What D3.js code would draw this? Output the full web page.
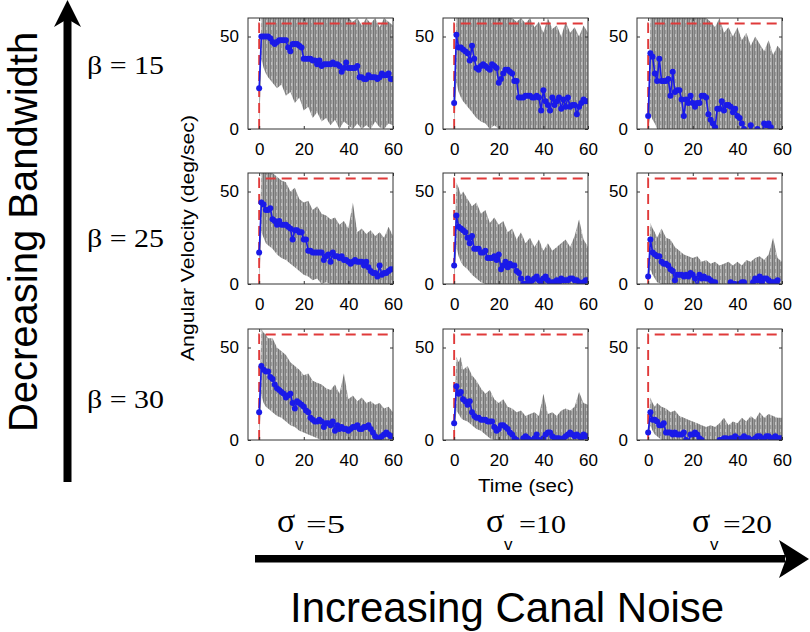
<!DOCTYPE html>
<html>
<head>
<meta charset="utf-8">
<script src="https://cdn.jsdelivr.net/npm/d3@7/dist/d3.min.js"></script>
<style>
  html, body { margin: 0; padding: 0; background: #fff; }
  svg { display: block; }
</style>
</head>
<body>
<svg id="chart" width="810" height="632"></svg>
<script>
// ---------------- DATA ----------------
const betaLabels = ["β = 15", "β = 25", "β = 30"];
const sigmaValues = ["5", "10", "20"];
const xTicks = [0, 20, 40, 60];
const yTicks = [0, 50];
const refLevel = 57;
const timeSec = d3.range(0, 61);            // blue estimate sampled each second
const grayT = [0,1,2,3,4,6,8,10,12,14,16,18,20,22,24,26,28,30,32,34,36,38,40,42,44,46,48,50,52,54,56,58,60];

// blue estimates (deg/sec), t = 0..60
const blue_b15_s5  = [22,50,50,50,50,49,47,46,47,48, 48,48,48,44,42,46,46,46,45,44, 38,38,38,38,37,37,35,37,34,35, 35,35,35,36,35,35,34,31,33,36, 33,33,33,33,34,28,28,27,27,29, 28,28,28,27,28,30,29,29,30,27, 27];
const blue_b15_s10 = [14,51,44,44,43,42,41,37,45,38, 33,32,34,35,34,33,32,35,34,33, 25,27,30,32,32,31,30,26,26,17, 17,17,18,18,18,17,17,18,17,10, 21,15,13,10,17,13,15,17,11,16, 12,17,12,13,13,8,12,14,16,15, 15];
const blue_b15_s20 = [7,41,39,30,26,38,26,26,26,27, 18,31,20,21,21,16,7,16,14,18, 14,12,14,14,18,18,17,8,5,3, 1,11,11,15,10,13,13,12,9,11, 7,6,3,0,-4,-2,2,-3,-2,0, -4,-3,3,2,3,1,-3,-4,-2,-3, -3];
const blue_b25_s5  = [17,44,43,40,40,41,35,34,32,34, 32,32,32,31,30,24,29,29,28,28, 24,24,18,18,17,17,17,17,17,13, 15,16,12,17,15,15,14,15,13,13, 12,11,12,13,12,12,12,10,12,9, 7,6,6,4,10,5,6,6,7,8, 8];
const blue_b25_s10 = [10,37,31,30,29,28,25,22,26,19, 19,19,17,17,18,14,14,14,15,13, 16,8,10,12,9,11,10,10,7,6, 3,0,0,3,1,2,3,4,2,1, 3,4,2,0,1,1,2,1,3,2, 2,2,3,3,2,2,1,0,1,2, 2];
const blue_b25_s20 = [4,24,17,16,15,15,12,11,11,10, 8,7,2,5,5,5,4,5,4,6, 5,3,-2,5,3,4,3,3,2,1, 1,-1,-3,-4,-2,-3,-1,1,0,0, -1,0,1,1,-2,-3,-1,1,3,2, 4,1,3,3,2,1,1,1,2,-1, -2];
const blue_b30_s5  = [15,40,38,37,37,34,33,30,28,27, 26,25,23,24,25,20,17,21,20,19, 18,16,15,12,11,10,10,11,10,7, 9,9,8,10,5,8,6,7,6,6, 5,6,7,7,8,6,6,7,7,8, 6,4,2,1,1,2,3,4,3,2, 2];
const blue_b30_s10 = [9,29,25,26,22,21,19,21,15,13, 12,12,11,11,11,10,10,10,7,5, 6,8,8,7,6,4,3,1,0,-1, -2,1,2,1,0,-1,1,3,0,-1, 1,3,4,4,2,1,1,1,0,1, 2,3,4,3,2,3,2,1,3,2, 2];
const blue_b30_s20 = [4,15,11,11,10,8,8,9,4,4, 4,3,4,3,3,3,4,0,-2,3, 3,4,3,1,0,-1,-3,-4,-2,-3, -4,-2,0,0,1,1,0,1,1,2, 1,0,1,2,1,1,0,0,1,2, 2,1,0,2,2,1,1,2,1,1, 1];

// gray trial envelopes (upper / lower), at grayT
const grayHi_b15_s5  = [22,60,60,60,60,60,60,60,60,60,60,60,60,60,60,60,60,60,60,60,60,60,60,58,60,56,60,57,60,55,60,58,56];
const grayLo_b15_s5  = [0,38,33,30,28,25,22,24,18,20,14,17,10,12,6,9,4,6,2,5,0,4,2,0,3,0,2,0,4,1,0,3,2];
const grayHi_b15_s10 = [14,60,60,60,60,60,60,60,60,60,60,60,60,60,60,60,58,60,57,60,55,58,52,60,54,56,50,58,52,55,50,56,52];
const grayLo_b15_s10 = [0,25,20,17,15,12,9,6,4,3,0,2,0,0,0,0,0,0,0,0,0,0,0,0,0,0,0,0,0,0,0,0,0];
const grayHi_b15_s20 = [7,60,60,60,60,60,60,60,60,60,60,60,60,60,60,60,58,55,60,52,55,50,55,48,52,45,50,46,42,48,40,45,42];
const grayLo_b15_s20 = [0,8,5,3,0,0,0,0,0,0,0,0,0,0,0,0,0,0,0,0,0,0,0,0,0,0,0,0,0,0,0,0,0];
const grayHi_b25_s5  = [17,60,60,60,60,60,58,56,55,50,52,46,44,45,40,42,38,37,35,36,32,34,30,44,28,30,27,29,26,28,25,31,26];
const grayLo_b25_s5  = [0,28,25,22,21,19,16,14,13,11,9,7,5,4,2,3,0,1,0,0,0,0,0,0,0,0,0,0,0,0,0,0,0];
const grayHi_b25_s10 = [10,55,52,48,50,46,42,44,38,40,33,36,32,34,28,30,24,28,22,25,20,24,18,22,18,20,22,24,20,26,35,24,20];
const grayLo_b25_s10 = [0,20,15,12,10,8,5,3,1,0,0,0,0,0,0,0,0,0,0,0,0,0,0,0,0,0,0,0,0,0,0,0,0];
const grayHi_b25_s20 = [5,33,30,28,25,30,25,24,20,18,16,15,14,15,12,13,11,12,10,11,12,10,12,10,13,12,14,15,13,16,25,14,12];
const grayLo_b25_s20 = [0,8,5,3,1,0,0,0,0,0,0,0,0,0,0,0,0,0,0,0,0,0,0,0,0,0,0,0,0,0,0,0,0];
const grayHi_b30_s5  = [15,60,58,57,55,55,50,48,46,42,40,38,35,36,32,31,30,28,27,30,25,36,22,24,21,23,20,21,19,20,17,18,15];
const grayLo_b30_s5  = [0,24,20,18,17,15,13,12,10,8,7,5,4,3,2,1,0,0,0,0,0,0,0,0,0,0,0,0,0,0,0,0,0];
const grayHi_b30_s10 = [9,45,42,45,38,40,35,32,28,25,27,22,20,22,18,17,15,16,13,14,15,13,25,14,15,13,16,17,16,18,26,20,19];
const grayLo_b30_s10 = [0,16,14,12,11,10,8,6,5,3,1,0,0,0,0,0,0,0,0,0,0,0,0,0,0,0,0,0,0,0,0,0,0];
const grayHi_b30_s20 = [4,23,20,18,20,18,17,15,16,13,12,11,10,9,8,7,8,7,9,12,8,10,9,12,10,13,11,15,12,14,13,12,12];
const grayLo_b30_s20 = [0,8,5,3,2,0,0,0,0,0,0,0,0,0,0,0,0,0,0,0,0,0,0,0,0,0,0,0,0,0,0,0,0];

const panels = [
  {row:0, col:0, blue:blue_b15_s5,  hi:grayHi_b15_s5,  lo:grayLo_b15_s5},
  {row:0, col:1, blue:blue_b15_s10, hi:grayHi_b15_s10, lo:grayLo_b15_s10},
  {row:0, col:2, blue:blue_b15_s20, hi:grayHi_b15_s20, lo:grayLo_b15_s20},
  {row:1, col:0, blue:blue_b25_s5,  hi:grayHi_b25_s5,  lo:grayLo_b25_s5},
  {row:1, col:1, blue:blue_b25_s10, hi:grayHi_b25_s10, lo:grayLo_b25_s10},
  {row:1, col:2, blue:blue_b25_s20, hi:grayHi_b25_s20, lo:grayLo_b25_s20},
  {row:2, col:0, blue:blue_b30_s5,  hi:grayHi_b30_s5,  lo:grayLo_b30_s5},
  {row:2, col:1, blue:blue_b30_s10, hi:grayHi_b30_s10, lo:grayLo_b30_s10},
  {row:2, col:2, blue:blue_b30_s20, hi:grayHi_b30_s20, lo:grayLo_b30_s20}
];

// ---------------- LAYOUT ----------------
const colLeft = [248, 443, 637];
const rowTop = [18, 173, 329];
const pw = 145, ph = 111;
const sansFont = "'Liberation Sans', Arial, Helvetica, sans-serif";
const serifFont = "'Liberation Serif', 'Times New Roman', Times, serif";

const svg = d3.select("#chart");
const defs = svg.append("defs");
const pat = defs.append("pattern").attr("id", "grayStripes")
  .attr("patternUnits", "userSpaceOnUse").attr("width", 5).attr("height", 7);
pat.append("rect").attr("width", 5).attr("height", 7).attr("fill", "#a6a6a6");
pat.append("rect").attr("x", 0).attr("width", 1.2).attr("height", 7).attr("fill", "#737373");
pat.append("rect").attr("x", 2).attr("width", 1.3).attr("height", 7).attr("fill", "#808080");
pat.append("rect").attr("x", 3.3).attr("y", 2).attr("width", 0.8).attr("height", 3).attr("fill", "#d4d4d4");

const x = d3.scaleLinear().domain([-5, 60]).range([0, pw]);
const y = d3.scaleLinear().domain([0, 60]).range([ph, 0]);

panels.forEach((p, i) => {
  const g = svg.append("g").attr("transform", `translate(${colLeft[p.col]},${rowTop[p.row]})`);
  defs.append("clipPath").attr("id", "clip" + i)
    .append("rect").attr("width", pw).attr("height", ph);
  const body = g.append("g").attr("clip-path", `url(#clip${i})`);

  // gray trials band
  const band = grayT.map((t, k) => ({t, hi: p.hi[k], lo: p.lo[k]}));
  body.append("path").datum(band)
    .attr("d", d3.area().x(d => x(d.t)).y0(d => y(d.lo)).y1(d => y(d.hi)))
    .attr("fill", "url(#grayStripes)");

  // red dashed reference (step)
  body.append("path")
    .attr("d", d3.line()([[x(0), y(0)], [x(0), y(refLevel)], [x(60), y(refLevel)]]))
    .attr("fill", "none").attr("stroke", "#e03a3a").attr("stroke-width", 1.9)
    .attr("stroke-dasharray", "10,6");

  // blue estimate
  const pts = timeSec.map((t, k) => ({t, v: p.blue[k]}));
  body.append("path").datum(pts)
    .attr("d", d3.line().x(d => x(d.t)).y(d => y(d.v)))
    .attr("fill", "none").attr("stroke", "#1a1ae8").attr("stroke-width", 1.6);
  body.selectAll("circle").data(pts.filter(d => d.v >= 0)).join("circle")
    .attr("cx", d => x(d.t)).attr("cy", d => y(d.v)).attr("r", 3)
    .attr("fill", "#1a1ae8");

  // axes
  const ax = d3.axisBottom(x).tickValues(xTicks).tickSizeInner(-3).tickSizeOuter(0).tickPadding(14);
  const axTop = d3.axisTop(x).tickValues(xTicks).tickSizeInner(-3).tickSizeOuter(0).tickFormat("");
  const ay = d3.axisLeft(y).tickValues(yTicks).tickSizeInner(-3).tickSizeOuter(0).tickPadding(9);
  const ayR = d3.axisRight(y).tickValues(yTicks).tickSizeInner(-3).tickSizeOuter(0).tickFormat("");
  const gx = g.append("g").attr("transform", `translate(0,${ph})`).call(ax);
  g.append("g").call(axTop);
  const gy = g.append("g").call(ay);
  g.append("g").attr("transform", `translate(${pw},0)`).call(ayR);
  g.selectAll(".domain").remove();
  g.selectAll(".tick line").attr("stroke", "#333");
  [gx, gy].forEach(a => a.selectAll("text")
    .attr("font-family", sansFont).attr("font-size", 17).attr("fill", "#000"));
  g.append("rect").attr("width", pw).attr("height", ph)
    .attr("fill", "none").attr("stroke", "#333").attr("stroke-width", 1);
});

// ---------------- LABELS ----------------
svg.append("text").attr("transform", "translate(194,238) rotate(-90)")
  .attr("text-anchor", "middle").attr("font-family", sansFont).attr("font-size", 19)
  .attr("textLength", 246).attr("lengthAdjust", "spacingAndGlyphs")
  .text("Angular Velocity (deg/sec)");

svg.append("text").attr("x", 526).attr("y", 492)
  .attr("text-anchor", "middle").attr("font-family", sansFont).attr("font-size", 18)
  .attr("textLength", 96).attr("lengthAdjust", "spacingAndGlyphs")
  .text("Time (sec)");

const betaBase = [74, 247, 408];
betaLabels.forEach((t, i) => {
  svg.append("text").attr("x", 87).attr("y", betaBase[i])
    .attr("font-family", serifFont).attr("font-size", 25)
    .attr("textLength", 77).attr("lengthAdjust", "spacingAndGlyphs")
    .text(t);
});

const sigmaX = [277, 486, 692];
const sigmaEqX = [304, 517, 721];
const sigmaEqW = [41, 49, 51];
sigmaValues.forEach((v, i) => {
  svg.append("text").attr("x", sigmaX[i]).attr("y", 532)
    .attr("font-family", serifFont).attr("font-size", 34).text("σ");
  svg.append("text").attr("x", sigmaX[i] + 18).attr("y", 550)
    .attr("font-family", sansFont).attr("font-size", 17).text("v");
  svg.append("text").attr("x", sigmaEqX[i] + 2).attr("y", 533)
    .attr("font-family", serifFont).attr("font-size", 26)
    .attr("textLength", sigmaEqW[i] - 2).attr("lengthAdjust", "spacingAndGlyphs")
    .text("=" + v);
});

// vertical arrow (Decreasing Bandwidth)
svg.append("rect").attr("x", 63.5).attr("y", 18).attr("width", 8).attr("height", 464).attr("fill", "#000");
svg.append("path").attr("d", "M67.5,0 L81,27 L67.5,19 L54,27 Z").attr("fill", "#000");
svg.append("text").attr("transform", "translate(37,232) rotate(-90)")
  .attr("text-anchor", "middle").attr("font-family", sansFont).attr("font-size", 40)
  .text("Decreasing Bandwidth");

// horizontal arrow (Increasing Canal Noise)
svg.append("rect").attr("x", 255).attr("y", 555).attr("width", 530).attr("height", 7.5).attr("fill", "#000");
svg.append("path").attr("d", "M809,559 L779,540 L786,559 L779,578 Z").attr("fill", "#000");
svg.append("text").attr("x", 290).attr("y", 622)
  .attr("font-family", sansFont).attr("font-size", 42)
  .text("Increasing Canal Noise");
</script>
</body>
</html>
